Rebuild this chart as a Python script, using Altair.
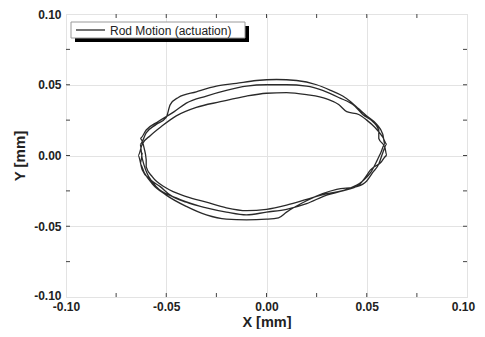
import altair as alt
import pandas as pd

# ---- data (mm) ----
xs = [
    -0.033, -0.045, -0.055,
    # loop 1
    -0.062, -0.063, -0.060, -0.055, -0.050, -0.048, -0.044, -0.035, -0.025, -0.015,
    -0.005, 0.005, 0.015, 0.025, 0.032, 0.038, 0.042, 0.046, 0.050, 0.055, 0.058,
    0.059, 0.057, 0.055, 0.052, 0.048, 0.040, 0.030, 0.020, 0.010, 0.000, -0.010,
    -0.020, -0.030, -0.040, -0.050, -0.057, -0.060,
    # loop 2
    -0.060, -0.061, -0.063, -0.060, -0.054, -0.046, -0.040, -0.030, -0.020, -0.010,
    0.000, 0.010, 0.020, 0.028, 0.036, 0.044, 0.048, 0.053, 0.056, 0.056, 0.059,
    0.060, 0.057, 0.052, 0.049, 0.046, 0.038, 0.030, 0.020, 0.010, 0.000, -0.010,
    -0.020, -0.030, -0.040, -0.048, -0.053, -0.058, -0.062,
    # loop 3
    -0.064, -0.062, -0.058, -0.052, -0.045, -0.035, -0.023, -0.010, 0.000, 0.010,
    0.020, 0.030, 0.036, 0.040, 0.046, 0.050, 0.054, 0.058, 0.060, 0.058, 0.056,
    0.053, 0.050, 0.045, 0.035, 0.028, 0.020, 0.010, 0.006, 0.000, -0.010, -0.020,
    -0.030, -0.040, -0.050, -0.057, -0.061, -0.063, -0.062,
]
ys = [
    -0.036, -0.030, -0.022,
    # loop 1
    -0.002, 0.008, 0.016, 0.022, 0.027, 0.036, 0.041, 0.045, 0.049, 0.051,
    0.053, 0.0537, 0.053, 0.050, 0.046, 0.042, 0.038, 0.033, 0.028, 0.022, 0.015,
    0.008, 0.002, -0.004, -0.012, -0.018, -0.024, -0.027, -0.031, -0.035, -0.038, -0.039,
    -0.037, -0.033, -0.029, -0.023, -0.015, -0.008,
    # loop 2
    -0.003, 0.005, 0.012, 0.018, 0.024, 0.031, 0.037, 0.042, 0.046, 0.049,
    0.050, 0.050, 0.049, 0.046, 0.041, 0.035, 0.029, 0.024, 0.018, 0.012, 0.006,
    0.000, -0.005, -0.010, -0.016, -0.021, -0.025, -0.028, -0.034, -0.038, -0.040, -0.042,
    -0.040, -0.037, -0.033, -0.028, -0.022, -0.017, -0.010,
    # loop 3
    0.000, 0.008, 0.014, 0.021, 0.028, 0.034, 0.038, 0.042, 0.044, 0.0445,
    0.043, 0.040, 0.036, 0.031, 0.029, 0.025, 0.020, 0.013, 0.008, 0.002, -0.006,
    -0.012, -0.018, -0.022, -0.024, -0.027, -0.032, -0.040, -0.044, -0.045, -0.0455, -0.045,
    -0.042, -0.036, -0.028, -0.020, -0.012, -0.006, 0.002,
]
series_name = "Rod Motion (actuation)"
axis_values = [-0.10, -0.05, 0.00, 0.05, 0.10]
minor_ticks = [-0.075, -0.05, -0.025, 0.0, 0.025, 0.05, 0.075]

W, H = 401, 283
FONT = "Liberation Sans"

df = pd.DataFrame({"x": xs, "y": ys, "i": list(range(len(xs)))})
ticks = pd.DataFrame({"t": minor_ticks})

xscale = alt.Scale(domain=[-0.1, 0.1], nice=False, zero=False)
yscale = alt.Scale(domain=[-0.1, 0.1], nice=False, zero=False)

label_expr = "datum.value < -0.0001 ? '-' + format(-datum.value, '.2f') : format(abs(datum.value), '.2f')"

xaxis = alt.Axis(values=axis_values, labelExpr=label_expr, grid=True, gridColor="#e3e3e3",
                 gridWidth=1, tickSize=0, domain=False, labelFlush=False, labelOverlap=False,
                 labelFont=FONT, labelFontSize=12, labelFontWeight="bold", labelColor="#222",
                 labelPadding=4,
                 labelOffset={"condition": {"test": "datum.value > 0.09", "value": -4}, "value": 0},
                 title="X [mm]", titleFont=FONT, titleFontSize=14.5,
                 titleFontWeight="bold", titleColor="#222", titleY=18, titleBaseline="top")
yaxis = alt.Axis(values=axis_values, labelExpr=label_expr, grid=True, gridColor="#e3e3e3",
                 gridWidth=1, tickSize=0, domain=False, labelFlush=False, labelOverlap=False,
                 labelFont=FONT, labelFontSize=12, labelFontWeight="bold", labelColor="#222",
                 labelPadding=5,
                 labelOffset={"condition": {"test": "datum.value < -0.09", "value": -2}, "value": 0},
                 title="Y [mm]", titleFont=FONT, titleFontSize=15,
                 titleFontWeight="bold", titleColor="#222", titlePadding=6)

line = alt.Chart(df).mark_line(color="#2a2a2a", strokeWidth=1.3, interpolate="monotone").encode(
    x=alt.X("x:Q", scale=xscale, axis=xaxis),
    y=alt.Y("y:Q", scale=yscale, axis=yaxis),
    order="i:Q",
)

tick_col = "#444"
top_t = alt.Chart(ticks).mark_rule(color=tick_col, strokeWidth=1).encode(
    x=alt.X("t:Q", scale=xscale), y=alt.value(0), y2=alt.value(4))
bot_t = alt.Chart(ticks).mark_rule(color=tick_col, strokeWidth=1).encode(
    x=alt.X("t:Q", scale=xscale), y=alt.value(H), y2=alt.value(H - 4))
left_t = alt.Chart(ticks).mark_rule(color=tick_col, strokeWidth=1).encode(
    y=alt.Y("t:Q", scale=yscale), x=alt.value(0), x2=alt.value(4))
right_t = alt.Chart(ticks).mark_rule(color=tick_col, strokeWidth=1).encode(
    y=alt.Y("t:Q", scale=yscale), x=alt.value(W), x2=alt.value(W - 4))

leg = pd.DataFrame({"label": [series_name]})
shadow = alt.Chart(leg).mark_rect(color="black").encode(
    x=alt.value(9), x2=alt.value(183), y=alt.value(12), y2=alt.value(28))
box = alt.Chart(leg).mark_rect(fill="white", stroke="#9a9a9a", strokeWidth=1).encode(
    x=alt.value(5), x2=alt.value(179), y=alt.value(8), y2=alt.value(24))
sample = alt.Chart(leg).mark_rule(color="#2a2a2a", strokeWidth=1.3).encode(
    x=alt.value(10), x2=alt.value(39), y=alt.value(16))
txt = alt.Chart(leg).mark_text(align="left", baseline="middle", font=FONT, fontSize=12,
                               color="#222").encode(
    x=alt.value(44), y=alt.value(16.5), text="label:N")

chart = alt.layer(line, top_t, bot_t, left_t, right_t, shadow, box, sample, txt).properties(
    width=W, height=H,
    autosize=alt.AutoSizeParams(type="none"),
    padding={"left": 58, "top": 6, "right": 10, "bottom": 32},
).configure_view(stroke="#444", strokeWidth=2).configure(background="white")

chart.save("out.html", embed_options={"renderer": "svg", "actions": False})
